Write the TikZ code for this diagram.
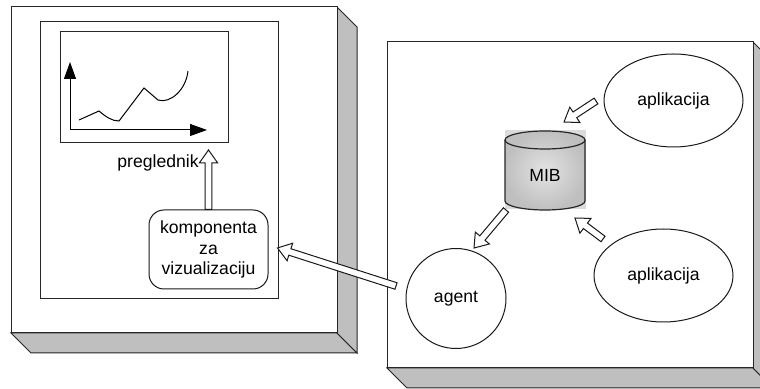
\documentclass[tikz,border=0pt]{standalone}
\usepackage{fontspec}
\setmainfont{Liberation Sans}
\usetikzlibrary{arrows.meta, positioning, shapes.geometric, calc}

%% hollow block arrow between two named points
\newcommand{\hollowarrow}[2]{%
  \coordinate (hb) at ($(#2)!6.5pt!(#1)$);
  \draw[harr] ($(#1)!1.7pt!90:(#2)$) -- ($(hb)!1.7pt!90:(#2)$)
    -- ($(hb)!4.6pt!90:(#2)$) -- (#2) -- ($(hb)!4.6pt!-90:(#2)$)
    -- ($(hb)!1.7pt!-90:(#2)$) -- ($(#1)!1.7pt!-90:(#2)$) -- cycle;}

\begin{document}
\begin{tikzpicture}[
  x=0.5pt, y=-0.5pt,
  font=\fontsize{8.8pt}{10.3pt}\selectfont,
  frame/.style={draw=black!85, line width=0.5pt, fill=white},
  side/.style={draw=black!85, line width=0.5pt, fill=gray!50},
  cyl/.style={draw=black!85, line width=0.6pt, inner color=gray!22, outer color=gray!50},
  proc/.style={ellipse, draw=black!90, line width=0.5pt, fill=white,
               minimum width=69.5pt, minimum height=46.5pt, inner sep=0pt},
  agt/.style={circle, draw=black!90, line width=0.5pt, fill=white,
              minimum size=50pt, inner sep=0pt},
  comp/.style={rectangle, rounded corners=7.5pt, draw=black!90, line width=0.5pt,
               fill=white, minimum width=59.5pt, minimum height=39.5pt,
               align=center, inner sep=0pt},
  harr/.style={draw=black!90, line width=0.5pt, fill=white, line join=miter},
  axis/.style={-{Triangle[length=8.5pt, width=6pt]}, line width=0.5pt}
]
\useasboundingbox (0,0) rectangle (760,389);
\clip (0,0) rectangle (760,389);
%% left host (3d block)
\draw[side] (11,333) -- (31,353) -- (357,353) -- (337,333) -- cycle;
\draw[side] (337,7) -- (357,27) -- (357,353) -- (337,333) -- cycle;
\draw[frame] (11,7) rectangle (337,333);
%% screen with chart
\draw[frame] (40,22) rectangle (278,299);
\draw[frame] (60,32) rectangle (228,143);
\coordinate (origin) at (70,130);
\coordinate (ytop)   at (70,62);
\coordinate (xend)   at (207,130);
\draw[axis] (origin) -- (ytop);
\draw[axis] (origin) -- (xend);
\draw[line width=0.5pt] (79,120) -- (99,111) .. controls (106,117) and (112,121) .. (119,121)
    -- (144,88) -- (158,100) .. controls (170,104) and (186,90) .. (188,71);
\node (pregl) at (158,163) {preglednik};
\node[comp] (komp) at (208.5,249.5) {komponenta\\za\\vizualizaciju};
%% right host (3d block)
\draw[side] (387,368) -- (407,388) -- (773,388) -- (753,368) -- cycle;
\draw[side] (753,42) -- (773,62) -- (773,388) -- (753,368) -- cycle;
\draw[frame] (387,42) rectangle (753,368);
%% MIB store
\fill[gray!28] (505,130) rectangle (586,209);
\draw[cyl] (505,140) -- (505,201)
    arc[start angle=180, end angle=0, x radius=40, y radius=9]
    -- (585,140) arc[start angle=0, end angle=-180, x radius=40, y radius=9] -- cycle;
\draw[draw=black!85, line width=0.6pt] (505,140) arc[start angle=180, end angle=0, x radius=40, y radius=9];
\node (mib) at (545,175) {MIB};
%% processes
\node[proc] (app1)  at (673.5,100.5) {aplikacija};
\node[proc] (app2)  at (663.5,275.5) {aplikacija};
\node[agt]  (agent) at (456,298.5) {agent};
%% arrow ends
\coordinate (a1tail) at (596,101);
\coordinate (a1tip)  at (564,122);
\coordinate (a2tail) at (603,239);
\coordinate (a2tip)  at (575,218);
\coordinate (mtail)  at (506,210);
\coordinate (mtip)   at (474,248);
\coordinate (gtail)  at (396,286);
\coordinate (gtip)   at ($(komp.east)+(9,-1.5)$);
\coordinate (ptip)   at (208.5,150);
%% arrows
\hollowarrow{a1tail}{a1tip}
\hollowarrow{a2tail}{a2tip}
\hollowarrow{mtail}{mtip}
\hollowarrow{gtail}{gtip}
\hollowarrow{komp.north}{ptip}
\end{tikzpicture}
\end{document}
